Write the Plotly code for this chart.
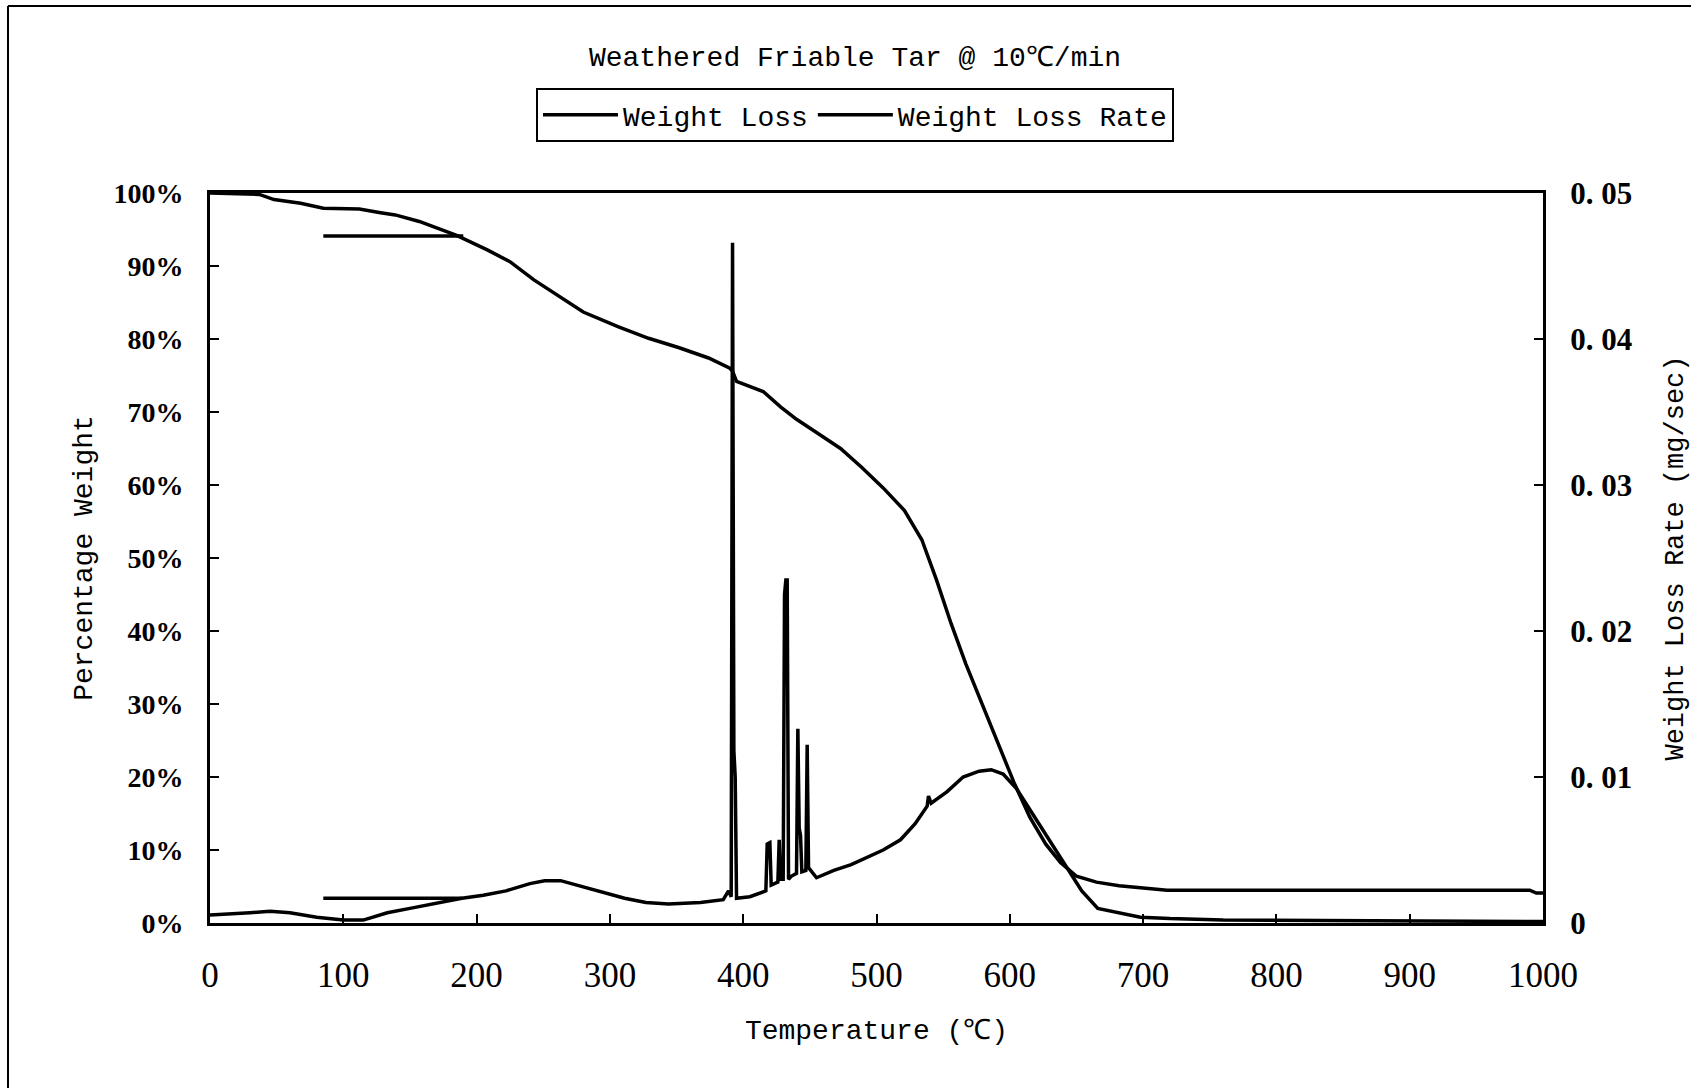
import plotly.graph_objects as go

# Weight loss (% of initial mass) vs furnace temperature.
# The short flat run at 94% (85-190 C) is kept as its own piece, split off with None.
wl_temp = [85, 190, None,
           0, 37, 48, 68, 85, 112, 128, 139, 157, 174, 185, 208, 225, 243, 266, 280,
           306, 329, 352, 374, 390, 392, 395, 415, 428, 440, 455, 473, 489, 505, 521,
           534, 545, 556, 567, 578, 590, 603, 615, 627, 638, 650, 665, 682, 700, 718,
           990, 995, 1000]
wl_pct = [94.1, 94.1, None,
          100, 99.8, 99.1, 98.6, 97.9, 97.8, 97.3, 97.0, 96.1, 94.9, 94.2, 92.2, 90.6, 88.1,
          85.3, 83.7, 81.7, 80.1, 78.8, 77.4, 76.0, 75.6, 74.2, 72.8, 70.7, 69.0, 67.2, 65.0,
          62.4, 59.6, 56.5, 52.5, 47.0, 41.0, 35.5, 30.5, 25.0, 19.3, 14.5, 10.8, 8.3, 6.4,
          5.6, 5.1, 4.8, 4.5, 4.5, 4.1, 4.1]

# Weight loss rate (mg/sec); flat run at 0.0017 between 85 and 189 C split off the same way.
rate_temp = [85, 189, None,
             0, 15, 30, 45, 60, 80, 100, 115, 133, 150, 166, 189, 205, 222, 240, 251, 263,
             279, 295, 311, 327, 344, 368, 385, 389, 391, 392, 393, 394, 395, 405, 417, 418,
             420, 421, 426, 427, 428, 430, 431, 432, 433, 434, 436, 440, 441, 442, 443, 444,
             447, 448, 449, 455, 468, 481, 493, 505, 518, 529, 538, 539, 541, 553, 565, 577,
             586, 595, 605, 617, 630, 642, 654, 666, 682, 698, 720, 760, 1000]
rate_mg_s = [0.0017, 0.0017, None,
             0.00055, 0.0006, 0.0007, 0.0008, 0.0007, 0.0004, 0.0002, 0.0002, 0.0007, 0.0010,
             0.0013, 0.0017, 0.0019, 0.0022, 0.0027, 0.0029, 0.0029, 0.0025, 0.0021, 0.0017,
             0.0014, 0.0013, 0.0014, 0.0016, 0.0022, 0.0018, 0.0466, 0.0118, 0.0100, 0.0017,
             0.0018, 0.0022, 0.0054, 0.0055, 0.0026, 0.0028, 0.0057, 0.0030, 0.0030, 0.0225,
             0.0235, 0.0235, 0.0030, 0.0032, 0.0034, 0.0133, 0.0065, 0.0060, 0.0035, 0.0036,
             0.0122, 0.0038, 0.0031, 0.0036, 0.0040, 0.0045, 0.0050, 0.0057, 0.0068, 0.0080,
             0.0087, 0.0082, 0.0090, 0.0100, 0.0104, 0.0105, 0.0102, 0.0092, 0.0075, 0.0057,
             0.0040, 0.0022, 0.0010, 0.0007, 0.0004, 0.0003, 0.0002, 0.0001]

x_ticks = list(range(0, 1001, 100))
pct_ticks = list(range(0, 101, 10))
pct_labels = [f"{v}%" for v in pct_ticks]
rate_ticks = [0, 0.01, 0.02, 0.03, 0.04, 0.05]
rate_labels = ["0", "0. 01", "0. 02", "0. 03", "0. 04", "0. 05"]

W, H = 1691, 1088
L, R, T, B = 210, 1543, 193, 923  # plot-area edges in pixels


def px_x(x):
    return (x - L) / (R - L)


def px_y(y):
    return (B - y) / (B - T)


mono = "Liberation Mono"
serif = "Liberation Serif"

fig = go.Figure()
fig.add_trace(go.Scatter(x=wl_temp, y=wl_pct, mode="lines", name="Weight Loss",
                         line=dict(color="black", width=3.5), yaxis="y"))
fig.add_trace(go.Scatter(x=rate_temp, y=rate_mg_s, mode="lines", name="Weight Loss Rate",
                         line=dict(color="black", width=3.5), yaxis="y2"))

fig.update_layout(
    width=W, height=H,
    margin=dict(l=L, r=W - R, t=T, b=H - B, pad=0, autoexpand=False),
    paper_bgcolor="white", plot_bgcolor="white",
    title=dict(text="Weathered Friable Tar @ 10℃/min", x=855 / W, xref="container",
               xanchor="center", y=1 - 56 / H, yref="container", yanchor="middle",
               font=dict(family=mono, size=28, color="black")),
    showlegend=True,
    legend=dict(orientation="h", x=px_x(855), xanchor="center", y=px_y(88), yanchor="top",
                bordercolor="black", borderwidth=2, bgcolor="white",
                font=dict(family=mono, size=28, color="black"),
                itemwidth=75, tracegroupgap=0),
    xaxis=dict(range=[0, 1000], tickvals=x_ticks, ticks="inside", ticklen=9, tickwidth=2,
               tickcolor="black", showline=True, linecolor="black", linewidth=3, mirror=True,
               showgrid=False, zeroline=False, ticklabelstandoff=19, automargin=False,
               tickfont=dict(family=serif, size=35, color="black"),
               title=dict(text="Temperature (℃)", standoff=26,
                          font=dict(family=mono, size=28, color="black"))),
    yaxis=dict(range=[0, 100], tickvals=pct_ticks, ticktext=pct_labels, ticks="inside",
               ticklen=9, tickwidth=2, tickcolor="black", showline=True, linecolor="black",
               linewidth=3, showgrid=False, zeroline=False, ticklabelstandoff=18,
               automargin=False,
               tickfont=dict(family=serif, size=28, color="black", weight="bold"),
               title=dict(text="Percentage Weight", standoff=13,
                          font=dict(family=mono, size=28, color="black"))),
    yaxis2=dict(range=[0, 0.05], tickvals=rate_ticks, ticktext=rate_labels, overlaying="y",
                side="right", ticks="inside", ticklen=9, tickwidth=2, tickcolor="black",
                showline=True, linecolor="black", linewidth=3, showgrid=False, zeroline=False,
                ticklabelstandoff=18, automargin=False,
                tickfont=dict(family=serif, size=31, color="black", weight="bold"),
                title=dict(text="Weight Loss Rate (mg/sec)", standoff=36,
                           font=dict(family=mono, size=27, color="black"))),
    shapes=[
        # outer chart-area frame (left and top edges)
        dict(type="line", xref="paper", yref="paper", x0=px_x(8), x1=px_x(8),
             y0=px_y(6), y1=px_y(H + 5), line=dict(color="black", width=2)),
        dict(type="line", xref="paper", yref="paper", x0=px_x(8), x1=px_x(W + 5),
             y0=px_y(6), y1=px_y(6), line=dict(color="black", width=2)),
    ],
)

fig.write_html("out.html")
